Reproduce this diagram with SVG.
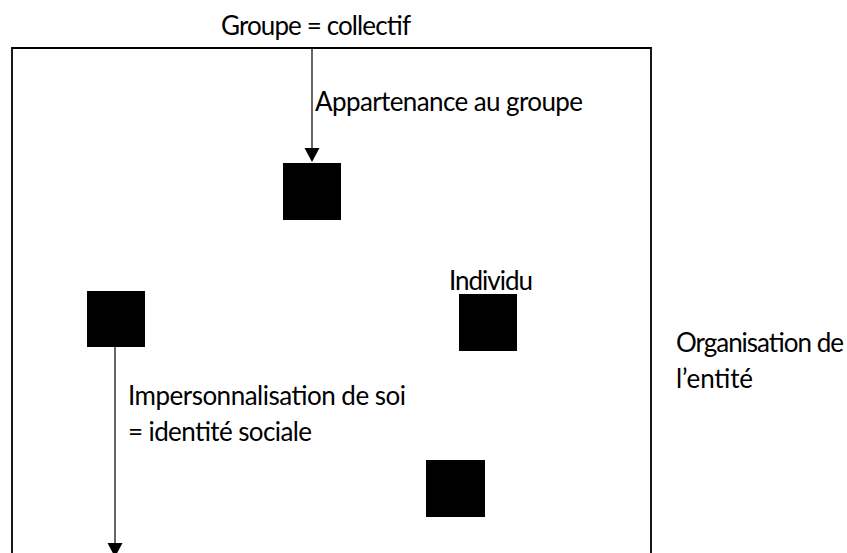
<svg xmlns="http://www.w3.org/2000/svg" width="847" height="553" viewBox="0 0 847 553">
<style>
  .t { font-family: Lato, "Open Sans", "Liberation Sans", sans-serif; font-size: 26px; fill: #000; }
  .sq { fill: #000; }
  .ln { stroke: #000; stroke-width: 1.2; fill: none; }
  .frame { stroke: #000; stroke-width: 1.8; fill: none; }
</style>
<defs>
  <marker id="arr" markerWidth="15" markerHeight="14" refX="7.5" refY="14" orient="auto-start-reverse" markerUnits="userSpaceOnUse" viewBox="0 0 15 14">
    <path d="M0,0 L15,0 L7.5,14 Z" fill="#000" transform="rotate(0)"/>
  </marker>
</defs>
<g id="frame">
  <path class="frame" d="M12,560 V48 H651 V560"/>
</g>
<g id="labels-outside">
  <text class="t" x="221" y="35" textLength="190">Groupe = collectif</text>
  <text class="t" x="676" y="352" textLength="168">Organisation de</text>
  <text class="t" x="676" y="388" textLength="77">l’entité</text>
</g>
<g id="node-groupe">
  <rect class="sq" x="283" y="163" width="58" height="57"/>
</g>
<g id="node-soi">
  <rect class="sq" x="87" y="291" width="58" height="56"/>
</g>
<g id="node-individu">
  <rect class="sq" x="459" y="294" width="58" height="57"/>
  <text class="t" x="449" y="290" textLength="84">Individu</text>
</g>
<g id="node-autre">
  <rect class="sq" x="426" y="460" width="59" height="57"/>
</g>
<g id="connectors">
  <line class="ln" x1="312" y1="48" x2="312" y2="149"/>
  <path d="M304.5,148 L319.5,148 L312,162 Z" fill="#000"/>
  <line class="ln" x1="115" y1="347" x2="115" y2="544"/>
  <path d="M107.5,543 L122.5,543 L115,557 Z" fill="#000"/>
</g>
<g id="connector-labels">
  <text class="t" x="315" y="111" textLength="268">Appartenance au groupe</text>
  <text class="t" x="128" y="405" textLength="278">Impersonnalisation de soi</text>
  <text class="t" x="128" y="441" textLength="184">= identité sociale</text>
</g>
</svg>
